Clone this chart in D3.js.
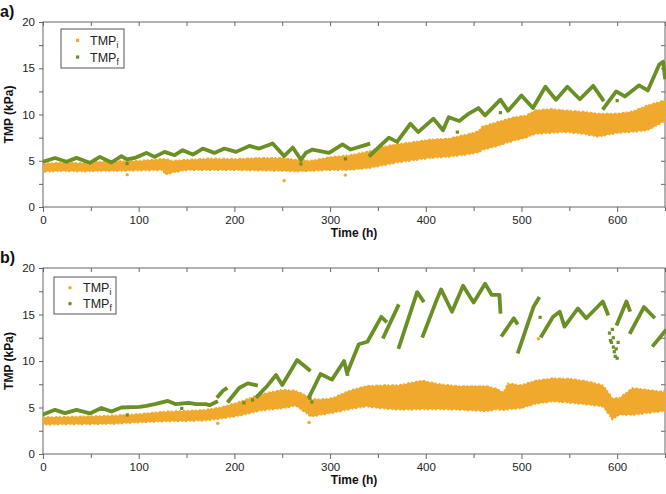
<!DOCTYPE html>
<html>
<head>
<meta charset="utf-8">
<script src="https://cdn.jsdelivr.net/npm/d3@7"></script>
<style>
  body { margin: 0; background: #fff; }
  svg { display: block; font-family: "Liberation Sans", Arial, sans-serif; }
</style>
</head>
<body>
<svg id="chart"></svg>
<script>
// tick labels / axis ranges
const xTicksMajor = [0, 100, 200, 300, 400, 500, 600];
const yTicksMajor = [0, 5, 10, 15, 20];
const seriesNames = ["i", "f"];

// ---- panel a) ----
// TMP_f : [time h, kPa], null = gap in the record
const aTMPf = [[0,4.9],[12.5,5.3],[24.6,4.89],[35,5.31],[48.9,4.78],[59.4,5.42],[71.5,4.81],[81.9,5.49],
  [87.8,5.15],[95.8,5.3],[108,5.85],[116.7,5.42],[127,5.96],[137.5,5.6],[146,6.14],[156.6,5.67],[167,6.32],
  [179,5.85],[189.6,6.32],[201.7,5.96],[215.6,6.6],[226,6.32],[240,6.86],[252,5.5],[261,6.43],[269.5,5.1],
  [274.7,5.85],[281.6,6.21],[299,5.85],[313,6.76],[321.5,6.21],[340,6.8], null,
  [342,5.6],[361.5,7.5],[370,7.04],[384,9.0],[392,8.1],[408,9.55],[418,8.3],[424,9.7],[435,9.3],[445,10.1],
  [455,10.7],[462,9.9],[478,11.6],[486,10.4],[500,12.06],[512,10.7],[525,13.0],[536,11.6],[548,13.0],
  [561,11.65],[575,13.1],[585,11.6], null,
  [586,10.7],[599,12.5],[608,11.95],[623,13.15],[632,12.6],[644,15.4],[648,15.7],[650,14.0]];
const aTMPfStray = [[87.8,4.7],[269.5,4.65],[316,5.2],[433,8.1],[478,10.2],[600,11.5]];
// TMP_i : band of readings, lower / upper edge
const aTime = [0,20,40,60,80,100,125,128,135,150,175,200,225,250,265,280,300,320,340,355,370,389,405,424,
  445,455,459,475,493,505,514,530,545,565,580,600,615,632,648,650];
const aLow  = [3.8,3.9,3.85,3.9,3.9,3.95,4.0,3.5,3.7,4.0,4.0,4.0,3.95,3.9,3.85,3.9,4.0,4.0,4.2,4.5,4.8,5.07,
  5.3,5.43,5.7,5.9,6.15,6.6,7.2,7.5,7.9,8.0,8.1,7.9,7.6,8.0,8.1,8.3,9.2,9.3];
const aHigh = [4.7,4.8,4.75,4.9,4.95,5.0,5.2,5.2,5.0,5.1,5.25,5.2,5.3,5.3,5.1,5.0,5.4,5.6,6.0,6.5,6.8,7.05,
  7.3,7.4,7.9,8.2,8.7,9.2,9.74,9.9,10.45,10.6,10.45,10.3,10.1,10.1,10.3,11.0,11.5,11.6];
const aTMPiStray = [[88,3.5],[252,2.85],[316,3.45]];

// ---- panel b) ----
const bTMPf = [[0,4.25],[12.5,4.75],[23,4.4],[35,4.75],[49,4.36],[61,4.95],[71.5,4.57],[82,5.0],[101,5.07],
  [108,5.18],[116.7,5.36],[130.5,5.71],[139,5.36],[152,5.5],[160,5.36],[170,5.36],[174,5.25],[181,5.6], null,
  [183,6.2],[188,6.8],[191,7.0], null,
  [194,5.7],[205,7.1],[214,7.6],[222.6,7.4], null,
  [224,6.2],[235,7.4],[243.5,8.5],[250,7.43],[265.6,10.1],[278,9.05], null,
  [278.5,6.2],[290,8.6],[302,8.0],[314.6,10.0],[318,8.6], null,
  [319,9.0],[330,11.8],[339,12.07],[353.5,14.75],[358,14.3], null,
  [356,12.6],[371,15.9], null,
  [372,11.5],[391,17.4],[397,16.5], null,
  [397,12.7],[410,16.2],[416,17.7],[427.4,15.3],[439,18.1],[450,16.3],[462,18.3],[469,17.1],[477,17.1],[478,15.3], null,
  [480,12.8],[492,14.6],[495,14.1], null,
  [496.7,11.0],[512.5,15.8],[517.7,16.7], null,
  [521,12.7],[533,14.76],[540,15.3],[545,13.7],[559,15.65],[567.7,14.6],[585,16.4],[590,15.1], null,
  [600,14.0],[609.7,16.4],[613,15.5], null,
  [614,13.1],[628,15.8],[638,14.76], null,
  [638,11.7],[650,13.2]];
const bTMPfStray = [[88,4.2],[145,4.9],[210,5.5],[219,5.8],[279,6.0],[281,5.6],[519.5,14.7],
  [592,13.0],[593,12.2],[594,12.0],[595,13.4],[596,11.5],[597,11.0],[598,10.5],[600,10.3],[596,12.5],[601,12.0],[599,11.3]];
const bTime = [0,25,50,75,100,125,150,170,185,205,226,240,250,264,275,280,290,302,320,337,355,372,396,415,
  434,464,475,481,486,499,515,533,551,570,585,591,595,602,616,632,648,650];
const bLow  = [3.15,3.2,3.2,3.25,3.4,3.5,3.55,3.6,3.8,4.1,4.64,4.8,4.9,5.2,4.4,4.0,4.2,4.4,4.8,5.1,4.9,4.76,
  4.8,4.8,4.76,4.6,4.8,4.7,4.8,4.9,5.4,5.65,5.5,5.3,5.1,4.3,3.7,4.2,4.2,4.4,4.6,4.6];
const bHigh = [3.95,4.0,4.05,4.15,4.3,4.55,4.65,4.75,5.0,5.6,6.4,6.7,6.9,6.8,6.3,5.9,5.9,6.0,6.8,7.3,7.4,7.4,
  7.9,7.5,7.3,7.3,7.0,6.6,7.6,7.4,7.9,8.15,8.1,7.8,7.4,6.6,6.0,6.0,7.1,6.9,6.7,6.8];
const bTMPiStray = [[182.6,3.3],[278,3.4],[517.7,12.4]];

const W = 666, H = 494;
const colI = "#F0A92C", colF = "#6A8F25", axisCol = "#666";

const svg = d3.select("#chart").attr("width", W).attr("height", H);
const x = d3.scaleLinear().domain([0, 650]).range([43, 665]);

function drawPanel(cfg) {
  const y = d3.scaleLinear().domain([0, 20]).range([cfg.bottom, cfg.top]);
  const g = svg.append("g");
  const clipId = "clip" + cfg.key;
  svg.append("clipPath").attr("id", clipId).append("rect")
    .attr("x", x(0)).attr("y", cfg.top).attr("width", x(650) - x(0) + 1).attr("height", cfg.bottom - cfg.top);

  // axes
  const fmt = d => d;
  g.append("g").attr("transform", `translate(0,${cfg.bottom})`)
    .call(d3.axisBottom(x).tickValues(xTicksMajor).tickSize(5).tickPadding(4).tickFormat(fmt));
  g.append("g").attr("transform", `translate(0,${cfg.bottom})`)
    .call(d3.axisBottom(x).tickValues(d3.range(50, 651, 100)).tickSize(4).tickFormat(""));
  g.append("g").attr("transform", `translate(0,${cfg.top})`)
    .call(d3.axisTop(x).tickValues(d3.range(0, 651, 50)).tickSize(-4).tickFormat(""));
  g.append("g").attr("transform", `translate(${x(0)},0)`)
    .call(d3.axisLeft(y).tickValues(yTicksMajor).tickSize(4).tickPadding(4).tickFormat(fmt));
  g.append("g").attr("transform", `translate(${x(0)},0)`)
    .call(d3.axisLeft(y).tickValues([2.5, 7.5, 12.5, 17.5]).tickSize(4).tickFormat(""));
  g.append("g").attr("transform", `translate(${x(650)},0)`)
    .call(d3.axisRight(y).tickValues(d3.range(2.5, 20, 2.5)).tickSize(-4).tickFormat(""));
  g.selectAll(".domain").remove();
  g.selectAll(".tick line").attr("stroke", axisCol);
  g.selectAll(".tick text").attr("fill", "#222").style("font-size", "11.5px");

  g.append("rect").attr("x", x(0)).attr("y", cfg.top)
    .attr("width", x(650) - x(0)).attr("height", cfg.bottom - cfg.top)
    .attr("fill", "none").attr("stroke", axisCol).attr("stroke-width", 1);

  const data = g.append("g").attr("clip-path", `url(#${clipId})`);

  // TMP_i band
  const band = cfg.time.map((t, k) => ({ t: t, lo: cfg.low[k], hi: cfg.high[k] }));
  data.append("path").datum(band)
    .attr("d", d3.area().x(d => x(d.t)).y0(d => y(d.lo)).y1(d => y(d.hi)))
    .attr("fill", colI).attr("stroke", colI).attr("stroke-width", 1.8)
    .attr("stroke-dasharray", "1.5,2.5,2.5,1.5");
  data.selectAll(".istray").data(cfg.iStray).join("circle")
    .attr("cx", d => x(d[0])).attr("cy", d => y(d[1])).attr("r", 1.7).attr("fill", colI);

  // TMP_f trace
  data.append("path").datum(cfg.f)
    .attr("d", d3.line().defined(d => d).x(d => x(d[0])).y(d => y(d[1])))
    .attr("fill", "none").attr("stroke", colF).attr("stroke-width", 3.8)
    .attr("stroke-linejoin", "round").attr("stroke-linecap", "square");
  data.selectAll(".fstray").data(cfg.fStray).join("rect")
    .attr("x", d => x(d[0]) - 1.6).attr("y", d => y(d[1]) - 1.6)
    .attr("width", 3.2).attr("height", 3.2).attr("fill", colF);

  // axis titles
  svg.append("text").attr("x", 354).attr("y", cfg.bottom + 30)
    .attr("text-anchor", "middle").attr("font-weight", "bold").style("font-size", "12px")
    .attr("fill", "#111").text("Time (h)");
  svg.append("text")
    .attr("transform", `translate(13,${(cfg.top + cfg.bottom) / 2}) rotate(-90)`)
    .attr("text-anchor", "middle").attr("font-weight", "bold").style("font-size", "12px")
    .attr("fill", "#111").text("TMP (kPa)");
  svg.append("text").attr("x", 0).attr("y", cfg.top - 5)
    .attr("font-weight", "bold").style("font-size", "16px").attr("fill", "#111").text(cfg.key + ")");

  // legend
  const L = cfg.legend;
  const lg = svg.append("g");
  lg.append("rect").attr("x", L.x).attr("y", L.y).attr("width", L.w).attr("height", L.h)
    .attr("fill", "#fff").attr("stroke", "#555").attr("stroke-width", 1);
  seriesNames.forEach((s, k) => {
    const cy = L.y + L.h * (k === 0 ? 0.29 : 0.72);
    const c = k === 0 ? colI : colF;
    if (cfg.key === "a") {
      lg.append("rect").attr("x", L.x + 15).attr("y", cy - 1.6).attr("width", 3.2).attr("height", 3.2).attr("fill", c);
    } else {
      lg.append("circle").attr("cx", L.x + 16).attr("cy", cy).attr("r", 1.8).attr("fill", c);
    }
    const t = lg.append("text").attr("x", L.x + 29).attr("y", cy + 4.5)
      .style("font-size", "12.5px").attr("fill", "#222");
    t.append("tspan").text("TMP");
    t.append("tspan").attr("dy", 3).style("font-size", "8.5px").text(s);
  });
}

drawPanel({ key: "a", top: 22, bottom: 207, f: aTMPf, fStray: aTMPfStray,
  time: aTime, low: aLow, high: aHigh, iStray: aTMPiStray,
  legend: { x: 61, y: 29, w: 63, h: 39 } });
drawPanel({ key: "b", top: 268, bottom: 454, f: bTMPf, fStray: bTMPfStray,
  time: bTime, low: bLow, high: bHigh, iStray: bTMPiStray,
  legend: { x: 54, y: 277, w: 62, h: 37 } });
</script>
</body>
</html>
